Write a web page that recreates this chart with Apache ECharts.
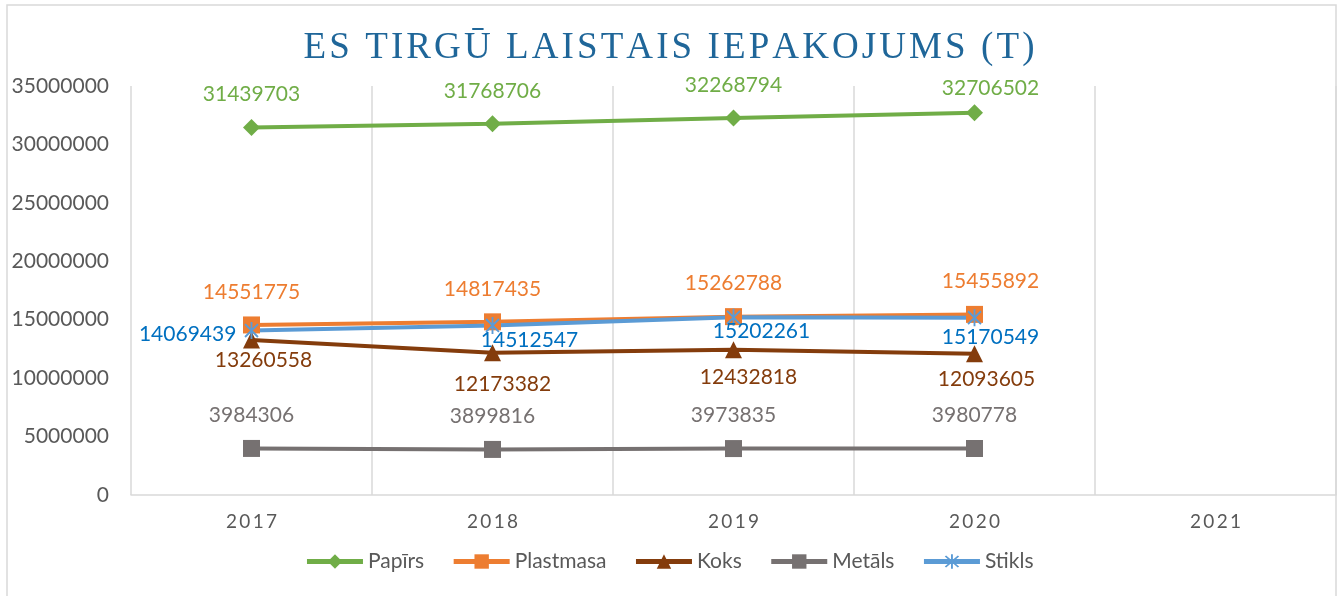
<!DOCTYPE html>
<html>
<head>
<meta charset="utf-8">
<script src="https://cdn.jsdelivr.net/npm/echarts@6/dist/echarts.min.js"></script>
<style>
html,body{margin:0;padding:0;background:#fff;}
#chart{width:1338px;height:596px;}
</style>
</head>
<body>
<div id="chart"></div>
<script>
// ---- data ----
const categories = ['2017', '2018', '2019', '2020', '2021'];
const papirs    = [31439703, 31768706, 32268794, 32706502];
const plastmasa = [14551775, 14817435, 15262788, 15455892];
const koks      = [13260558, 12173382, 12432818, 12093605];
const metals    = [3984306, 3899816, 3973835, 3980778];
const stikls    = [14069439, 14512547, 15202261, 15170549];
const seriesNames = ['Papīrs', 'Plastmasa', 'Koks', 'Metāls', 'Stikls'];
const titleText = 'ES TIRGŪ LAISTAIS IEPAKOJUMS (T)';

// ---- styles ----
const FONT = 'Lato';
const lineColors  = ['#70AD47', '#ED7D31', '#843C0C', '#767171', '#5B9BD5'];
const labelColors = ['#70AD47', '#ED7D31', '#843C0C', '#767171', '#0070C0'];
const symbols = ['diamond', 'rect', 'triangle', 'rect',
  'path://M4.45 0L5.55 0L5.55 10L4.45 10Z M0.8 1.6L1.6 0.8L9.2 8.4L8.4 9.2Z M8.4 0.8L9.2 1.6L1.6 9.2L0.8 8.4Z'];
// per-point label offsets (dx, dy) relative to symbol centre
const labelOffsets = [
  [[0,-33],[0,-33],[0,-33],[16,-25]],
  [[0,-33],[0,-33],[0,-33],[16,-33]],
  [[12,20],[10,31],[15,28],[12,26]],
  [[0,-33],[0,-33],[0,-33],[0,-33]],
  [null,[37,15],[28,14],[16,20]]
];

const allValues = [papirs, plastmasa, koks, metals, stikls];

const series = allValues.map((vals, si) => ({
  name: seriesNames[si],
  type: 'line',
  symbol: symbols[si],
  symbolSize: 17,
  symbolKeepAspect: true,
  lineStyle: {color: lineColors[si], width: 4},
  itemStyle: {color: lineColors[si]},
  animation: false,
  data: vals.map((v, i) => {
    const off = labelOffsets[si][i];
    const lbl = off
      ? {position: 'inside', offset: off}
      : {position: 'left', distance: 8, offset: [0, 4]};
    return {value: v, label: lbl};
  }),
  label: {
    show: true,
    color: labelColors[si],
    fontFamily: FONT,
    fontSize: 21
  }
}));

const chart = echarts.init(document.getElementById('chart'), null, {renderer: 'canvas'});
chart.setOption({
  backgroundColor: '#fff',
  animation: false,
  title: {
    text: titleText.split('').join('\u200A'),
    left: 'center',
    top: 25,
    textStyle: {fontFamily: 'Liberation Serif', fontSize: 37, fontWeight: 'normal', color: '#1F6699'}
  },
  graphic: [{
    type: 'rect', silent: true, z: -1,
    shape: {x: 7, y: 5, width: 1329, height: 600},
    style: {fill: 'none', stroke: '#D9D9D9', lineWidth: 1.5}
  }],
  legend: {
    data: seriesNames,
    top: 546,
    left: 'center',
    itemWidth: 56,
    itemHeight: 18,
    itemGap: 27,
    lineStyle: {width: 5},
    textStyle: {fontFamily: FONT, fontSize: 21, color: '#595959'}
  },
  grid: {left: 131, right: 2, top: 86, bottom: 101, containLabel: false},
  xAxis: {
    type: 'category',
    data: categories,
    boundaryGap: true,
    axisLine: {lineStyle: {color: '#D9D9D9', width: 1.5}},
    axisTick: {show: false},
    splitLine: {show: true, lineStyle: {color: '#D9D9D9', width: 1.5}},
    axisLabel: {
      margin: 17,
      fontFamily: FONT, fontSize: 19, color: '#595959',
      formatter: v => v.split('').join('\u2009')
    }
  },
  yAxis: {
    type: 'value',
    min: 0, max: 35000000, interval: 5000000,
    axisLine: {show: false},
    axisTick: {show: false},
    splitLine: {show: false},
    axisLabel: {margin: 22, fontFamily: FONT, fontSize: 21, color: '#595959', formatter: v => String(v)}
  },
  series: series
});
</script>
</body>
</html>
